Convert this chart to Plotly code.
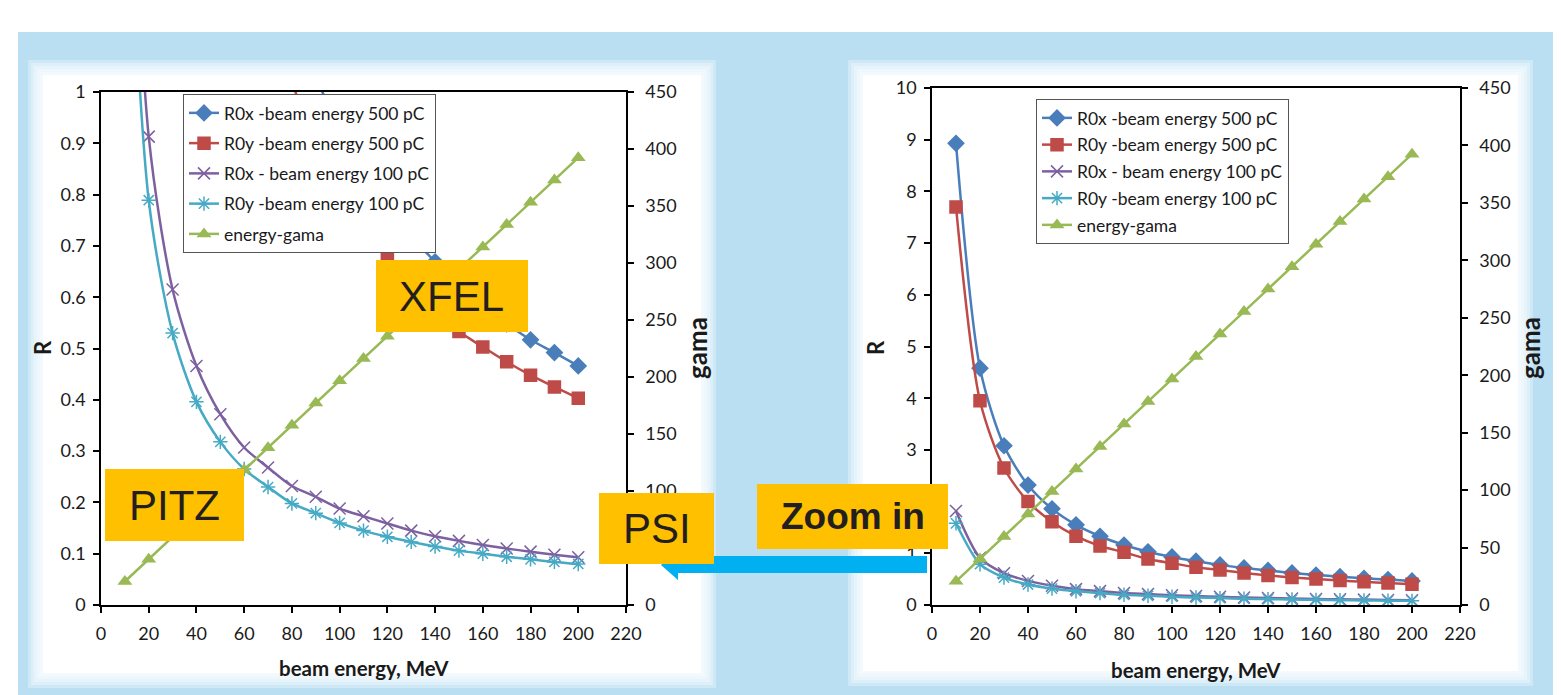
import plotly.graph_objects as go

# ---------------- data ----------------
energy = [10, 20, 30, 40, 50, 60, 70, 80, 90, 100, 110, 120, 130, 140, 150, 160, 170, 180, 190, 200]
r0x_500 = [8.93, 4.58, 3.08, 2.32, 1.86, 1.55, 1.33, 1.16, 1.03, 0.93, 0.848, 0.776, 0.718, 0.669, 0.62, 0.58, 0.548, 0.517, 0.492, 0.466]
r0y_500 = [7.7, 3.95, 2.65, 2.0, 1.61, 1.33, 1.14, 1.02, 0.889, 0.806, 0.731, 0.678, 0.62, 0.573, 0.533, 0.503, 0.474, 0.448, 0.425, 0.403]
r0x_100 = [1.82, 0.913, 0.615, 0.466, 0.372, 0.307, 0.268, 0.232, 0.211, 0.188, 0.173, 0.159, 0.145, 0.134, 0.125, 0.117, 0.11, 0.104, 0.098, 0.093]
r0y_100 = [1.58, 0.789, 0.53, 0.396, 0.318, 0.265, 0.23, 0.198, 0.179, 0.16, 0.145, 0.133, 0.123, 0.114, 0.106, 0.1, 0.094, 0.089, 0.084, 0.08]
gamma = [20.6, 40.1, 59.7, 79.3, 98.8, 118.4, 138.0, 157.6, 177.1, 196.7, 216.3, 235.8, 255.4, 275.0, 294.5, 314.1, 333.7, 353.3, 372.8, 392.4]

series_names = ["R0x -beam energy 500 pC", "R0y -beam energy 500 pC",
                "R0x - beam energy 100 pC", "R0y -beam energy 100 pC", "energy-gama"]
x_ticks = [0, 20, 40, 60, 80, 100, 120, 140, 160, 180, 200, 220]
box_labels = ["XFEL", "PITZ", "PSI", "Zoom in"]
x_title = "beam energy, MeV"
y_title = "R"
y2_title = "gama"

# ---------------- styling ----------------
W, H = 1561, 695
OFF = 8  # the page places the figure 8px in from the top-left corner
TF = "Lato, Carlito, 'Liberation Sans', sans-serif"
colors = ["#4A7EBB", "#BE4B48", "#7D60A0", "#46AAC5", "#98B954"]
symbols = ["diamond", "square", "x-thin-open", "asterisk-open", "triangle-up"]
msizes = [12, 12, 12, 12, 13]
LIGHTBLUE = "#BADFF2"
ORANGE = "#FFC000"
ARROW = "#00B0F0"


def px(x):
    return (x - OFF) / W


def py(y):
    return 1 - (y - OFF) / H


fig = go.Figure()

r_series = [r0x_500, r0y_500, r0x_100, r0y_100]
for panel, (xa, ya, ya2, leg) in enumerate([("x", "y", "y2", "legend"), ("x2", "y3", "y4", "legend2")]):
    for i, vals in enumerate(r_series):
        fig.add_trace(go.Scatter(
            x=energy, y=vals, name=series_names[i], mode="lines+markers",
            xaxis=xa, yaxis=ya, legend=leg, legendgroup=f"p{panel}s{i}",
            line=dict(color=colors[i], width=2.5, shape="spline", smoothing=0.8),
            marker=dict(symbol=symbols[i], size=msizes[i], color=colors[i],
                        line=dict(color=colors[i], width=1.5)),
        ))
    fig.add_trace(go.Scatter(
        x=energy, y=gamma, name=series_names[4], mode="lines+markers",
        xaxis=xa, yaxis=ya2, legend=leg, legendgroup=f"p{panel}s4",
        line=dict(color=colors[4], width=2.5),
        marker=dict(symbol=symbols[4], size=msizes[4], color=colors[4]),
    ))

tickfont = dict(family=TF, size=18, color="#1a1a1a")
xcommon = dict(range=[0, 220], tickvals=x_ticks, showline=True, linecolor="black", linewidth=2,
               mirror=True, ticks="outside", ticklen=6, tickcolor="black", tickwidth=1.5,
               showgrid=False, zeroline=False, tickfont=tickfont, ticklabelstandoff=5,
               automargin=False)
ycommon = dict(showline=True, linecolor="black", linewidth=1.5, ticks="outside", ticklen=6,
               tickcolor="black", tickwidth=1.5, showgrid=False, zeroline=False,
               tickfont=tickfont, automargin=False)

yb = py(605)
fig.update_layout(
    template="none",
    width=W, height=H, autosize=False,
    margin=dict(l=0, r=0, t=0, b=0, pad=0, autoexpand=False),
    paper_bgcolor="white", plot_bgcolor="rgba(0,0,0,0)",
    showlegend=True,
    xaxis=dict(domain=[px(101), px(626)], anchor="y", **xcommon),
    yaxis=dict(domain=[yb, py(92)], anchor="x", range=[0, 1], dtick=0.1, tickformat=".1~f",
               ticklabelstandoff=4, **ycommon),
    yaxis2=dict(overlaying="y", anchor="x", side="right", range=[0, 450], dtick=50,
                ticklabelstandoff=8, **ycommon),
    xaxis2=dict(domain=[px(932), px(1460)], anchor="y3", **xcommon),
    yaxis3=dict(domain=[yb, py(88)], anchor="x2", range=[0, 10], dtick=1,
                ticklabelstandoff=4, **ycommon),
    yaxis4=dict(overlaying="y3", anchor="x2", side="right", range=[0, 450], dtick=50,
                ticklabelstandoff=8, **ycommon),
    legend=dict(x=px(183), y=py(94), xanchor="left", yanchor="top", bgcolor="white",
                bordercolor="#555555", borderwidth=1, tracegroupgap=4.5, itemwidth=30,
                font=dict(family=TF, size=17.5, color="#1a1a1a")),
    legend2=dict(x=px(1036), y=py(99), xanchor="left", yanchor="top", bgcolor="white",
                 bordercolor="#555555", borderwidth=1, tracegroupgap=1, itemwidth=30,
                 font=dict(family=TF, size=17.5, color="#1a1a1a")),
)

shapes = []
# light blue background band
shapes.append(dict(type="rect", xref="paper", yref="paper", x0=px(18), x1=px(1561 + OFF), y0=py(695 + OFF), y1=py(32),
                   fillcolor=LIGHTBLUE, line=dict(width=0), layer="below"))


def soft_panel(x0, y0, x1, y1, fade=15):
    out = []
    steps = 5
    for k in range(steps):
        d = k * fade / steps
        out.append(dict(type="rect", xref="paper", yref="paper",
                        x0=px(x0 + d), x1=px(x1 - d), y0=py(y1 - d), y1=py(y0 + d),
                        fillcolor="white", opacity=0.3, line=dict(width=0), layer="below"))
    out.append(dict(type="rect", xref="paper", yref="paper",
                    x0=px(x0 + fade), x1=px(x1 - fade), y0=py(y1 - fade), y1=py(y0 + fade),
                    fillcolor="white", line=dict(width=0), layer="below"))
    return out


shapes += soft_panel(28, 60, 716, 688)
shapes += soft_panel(848, 60, 1533, 686)

# arrow (drawn before PSI box so box covers it)
pts = [(927, 556), (678, 556), (678, 550), (661, 565), (678, 580), (678, 573), (927, 573)]
path = "M " + " L ".join(f"{px(a):.5f},{py(b):.5f}" for a, b in pts) + " Z"
shapes.append(dict(type="path", xref="paper", yref="paper", path=path, fillcolor=ARROW,
                   line=dict(width=0), layer="above"))

boxes = [(376, 260, 528, 332), (105, 469, 244, 541), (599, 493, 714, 564), (757, 484, 948, 549)]
for (x0, y0, x1, y1) in boxes:
    shapes.append(dict(type="rect", xref="paper", yref="paper", x0=px(x0), x1=px(x1), y0=py(y1), y1=py(y0),
                       fillcolor=ORANGE, line=dict(width=0), layer="above"))
fig.update_layout(shapes=shapes)

ann = []
box_fonts = [dict(family="'Liberation Sans', Arial, sans-serif", size=42, color="#231F20")] * 3 + \
            [dict(family="'Liberation Sans', Arial, sans-serif", size=37, color="#231F20")]
for lbl, (x0, y0, x1, y1), f in zip(box_labels, boxes, box_fonts):
    text = f"<b>{lbl}</b>" if lbl == "Zoom in" else lbl
    ann.append(dict(text=text, xref="paper", yref="paper", x=px((x0 + x1) / 2), y=py((y0 + y1) / 2),
                    xanchor="center", yanchor="middle", showarrow=False, font=f))

tfont = dict(family=TF, size=20.5, color="#1a1a1a")
gfont = dict(family=TF, size=26, color="#1a1a1a")
rfont = dict(family=TF, size=22, color="#1a1a1a")
for (rx, gx, bx, by) in [(42, 697, 364, 668), (875, 1530, 1196, 670)]:
    ann.append(dict(text=f"<b>{y_title}</b>", xref="paper", yref="paper", x=px(rx), y=py(348),
                    xanchor="center", yanchor="middle", showarrow=False, textangle=-90, font=rfont))
    ann.append(dict(text=f"<b>{y2_title}</b>", xref="paper", yref="paper", x=px(gx), y=py(348),
                    xanchor="center", yanchor="middle", showarrow=False, textangle=-90, font=gfont))
    ann.append(dict(text=f"<b>{x_title}</b>", xref="paper", yref="paper", x=px(bx), y=py(by),
                    xanchor="center", yanchor="middle", showarrow=False, font=tfont))
fig.update_layout(annotations=ann)

fig.write_html("out.html")
